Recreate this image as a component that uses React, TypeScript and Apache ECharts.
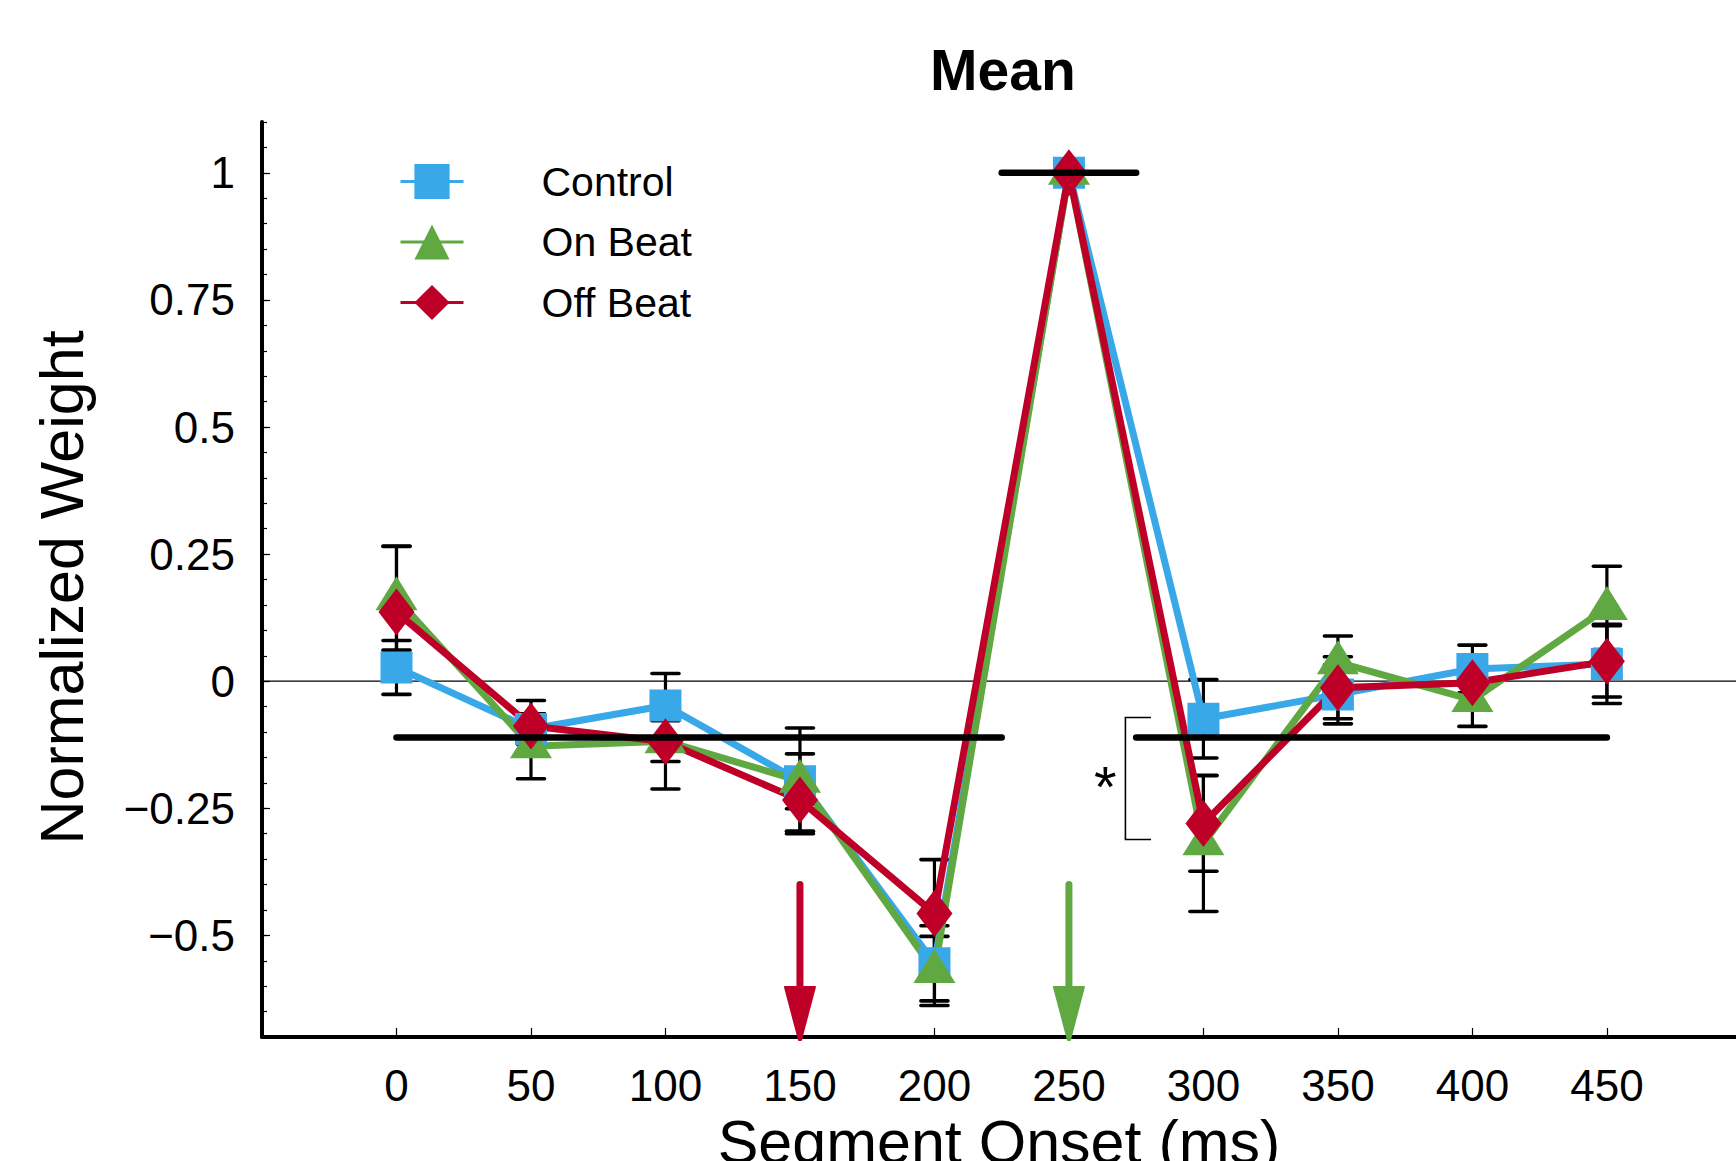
import React, { useEffect, useRef } from 'react';
import * as echarts from 'echarts';

const segmentOnsets = [0, 50, 100, 150, 200, 250, 300, 350, 400, 450];
const xTickLabels = ['0', '50', '100', '150', '200', '250', '300', '350', '400', '450'];
const yTickValues = [-0.5, -0.25, 0, 0.25, 0.5, 0.75, 1];
const yTickLabels = ['\u22120.5', '\u22120.25', '0', '0.25', '0.5', '0.75', '1'];

const controlMean = [0.027, -0.094, -0.048, -0.197, -0.555, 1.0, -0.074, -0.026, 0.024, 0.034];
const controlErr = [0.053, 0.03, 0.063, 0.054, 0.074, 0, 0.077, 0.058, 0.047, 0.078];
const onBeatMean = [0.163, -0.128, -0.118, -0.196, -0.57, 1.0, -0.319, 0.037, -0.037, 0.144];
const onBeatErr = [0.102, 0.064, 0.04, 0.104, 0.068, 0, 0.134, 0.052, 0.052, 0.082];
const offBeatMean = [0.136, -0.088, -0.119, -0.234, -0.457, 1.0, -0.28, -0.013, -0.003, 0.039];
const offBeatErr = [0.13, 0.05, 0.093, 0.061, 0.106, 0, 0.094, 0.061, 0.053, 0.07];

const chanceLevel = -0.111;
const peakLevel = 1;
const referenceSegments = [
  [0, 225, chanceLevel],
  [225, 275, peakLevel],
  [275, 450, chanceLevel],
];
const offBeatArrowOnset = 150;
const onBeatArrowOnset = 250;
const arrowTop = -0.4;
const bracketX = [271, 280.5];
const bracketY = [-0.0715, -0.3115];
const starPoint = [263.5, -0.188];

const X_MIN = -50;
const X_MAX = 498;
const Y_MIN = -0.7;
const Y_MAX = 1.1;

const BLUE = '#38A8E8';
const GREEN = '#60A842';
const RED = '#BE0028';
const FONT = '"Liberation Sans", Arial, Helvetica, sans-serif';

function errData(mean: number[], err: number[]) {
  return segmentOnsets
    .map((x, i) => [x, mean[i] - err[i], mean[i] + err[i], err[i]])
    .filter((d) => d[3] > 0);
}

const renderErr = (params: any, api: any) => {
  const x = api.value(0);
  const lo = api.coord([x, api.value(1)]);
  const hi = api.coord([x, api.value(2)]);
  const cw = 13.5;
  const st = { stroke: '#000', lineWidth: 3.6, lineCap: 'round' };
  return {
    type: 'group',
    children: [
      { type: 'line', shape: { x1: lo[0], y1: lo[1], x2: hi[0], y2: hi[1] }, style: { stroke: '#000', lineWidth: 3.2 } },
      { type: 'line', shape: { x1: lo[0] - cw, y1: lo[1], x2: lo[0] + cw, y2: lo[1] }, style: st },
      { type: 'line', shape: { x1: hi[0] - cw, y1: hi[1], x2: hi[0] + cw, y2: hi[1] }, style: st },
    ],
  };
};

const renderRef = (params: any, api: any) => {
  const a = api.coord([api.value(0), api.value(2)]);
  const b = api.coord([api.value(1), api.value(2)]);
  return {
    type: 'line',
    shape: { x1: a[0], y1: a[1], x2: b[0], y2: b[1] },
    style: { stroke: '#000', lineWidth: 6.5, lineCap: 'round' },
  };
};

const renderArrow = (params: any, api: any) => {
  const x = api.value(0);
  const top = api.coord([x, api.value(1)]);
  const tip = api.coord([x, Y_MIN]);
  const color = api.visual('color');
  const headLen = 50;
  const headHalf = 15;
  return {
    type: 'group',
    children: [
      {
        type: 'line',
        shape: { x1: top[0], y1: top[1], x2: tip[0], y2: tip[1] - headLen + 4 },
        style: { stroke: color, lineWidth: 7, lineCap: 'round' },
      },
      {
        type: 'polygon',
        shape: {
          points: [
            [tip[0] - headHalf, tip[1] - headLen],
            [tip[0] + headHalf, tip[1] - headLen],
            [tip[0] + 1, tip[1] + 3],
            [tip[0] - 1, tip[1] + 3],
          ],
        },
        style: { fill: color, stroke: color, lineWidth: 2, lineJoin: 'round' },
      },
    ],
  };
};

const renderBracket = (params: any, api: any) => {
  const p1 = api.coord([api.value(1), api.value(2)]);
  const p2 = api.coord([api.value(0), api.value(2)]);
  const p3 = api.coord([api.value(0), api.value(3)]);
  const p4 = api.coord([api.value(1), api.value(3)]);
  return {
    type: 'polyline',
    shape: { points: [p1, p2, p3, p4] },
    style: { stroke: '#000', lineWidth: 1.6, fill: 'none' },
  };
};

const renderStar = (params: any, api: any) => {
  const p = api.coord([api.value(0), api.value(1)]);
  return {
    type: 'text',
    x: p[0],
    y: p[1] + 10,
    style: {
      text: '*',
      fontSize: 58,
      fontFamily: FONT,
      fill: '#000',
      align: 'center',
      verticalAlign: 'middle',
    },
  };
};

const renderZero = (params: any, api: any) => {
  const a = api.coord([X_MIN, api.value(0)]);
  const b = api.coord([X_MAX, api.value(0)]);
  return {
    type: 'line',
    shape: { x1: a[0], y1: a[1], x2: b[0], y2: b[1] },
    style: { stroke: '#000', lineWidth: 1.3 },
  };
};

function lineSeries(name: string, mean: number[], color: string, symbol: string, size: any, offset: any) {
  return {
    name,
    type: 'line',
    data: segmentOnsets.map((x, i) => [x, mean[i]]),
    symbol,
    symbolSize: size,
    symbolOffset: offset,
    showAllSymbol: true,
    lineStyle: { width: 7, color, join: 'round' },
    itemStyle: { color },
    emphasis: { disabled: true },
    z: 2,
  };
}

function errSeries(mean: number[], err: number[]) {
  return {
    type: 'custom',
    data: errData(mean, err),
    renderItem: renderErr,
    encode: { x: 0, y: [1, 2] },
    silent: true,
    z: 2,
  };
}

export default function App() {
  const ref = useRef<HTMLDivElement>(null);
  useEffect(() => {
    if (!ref.current) return;
    const chart = echarts.init(ref.current, null, { renderer: 'svg' });
    const option: any = {
      animation: false,
      backgroundColor: '#fff',
      textStyle: { fontFamily: FONT },
      title: {
        text: 'Mean',
        left: 925,
        top: 36,
        padding: 5,
        textStyle: { fontSize: 57, fontWeight: 'bold', color: '#000', fontFamily: FONT },
      },
      legend: {
        orient: 'vertical',
        left: 399,
        top: 161,
        padding: 0,
        itemWidth: 63,
        itemHeight: 44,
        itemGap: 19.5,
        data: ['Control', 'On Beat', 'Off Beat'],
        textStyle: { fontSize: 41, color: '#000', fontFamily: FONT, padding: [0, 0, 0, 73] },
        lineStyle: { width: 3 },
      },
      grid: { left: 262, top: 122, right: 0, bottom: 124, containLabel: false, outerBoundsMode: 'none' },
      xAxis: {
        type: 'value',
        min: X_MIN,
        max: X_MAX,
        interval: 50,
        name: 'Segment Onset (ms)',
        nameLocation: 'middle',
        nameGap: 74,
        nameTextStyle: { fontSize: 61, color: '#000', fontFamily: FONT },
        axisLine: { onZero: false, lineStyle: { color: '#000', width: 4 } },
        axisTick: { inside: true, length: 9, customValues: segmentOnsets, lineStyle: { color: '#000', width: 1.2 } },
        axisLabel: {
          customValues: segmentOnsets,
          margin: 26,
          fontSize: 44,
          color: '#000',
          fontFamily: FONT,
          formatter: (v: number) => {
            const i = segmentOnsets.findIndex((s) => Math.abs(s - v) < 1e-6);
            return i >= 0 ? xTickLabels[i] : '';
          },
        },
        splitLine: { show: false },
      },
      yAxis: [
        {
          type: 'value',
          min: Y_MIN,
          max: Y_MAX,
          interval: 0.05,
          name: 'Normalized Weight',
          nameLocation: 'middle',
          nameGap: 170,
          nameTextStyle: { fontSize: 61, color: '#000', fontFamily: FONT, padding: [0, 16, 0, 0] },
          axisLine: { onZero: false, lineStyle: { color: '#000', width: 4 } },
          axisTick: { inside: true, length: 5, lineStyle: { color: '#000', width: 1.2 } },
          axisLabel: {
            customValues: yTickValues,
            margin: 27,
            fontSize: 44,
            color: '#000',
            fontFamily: FONT,
            formatter: (v: number) => {
              const i = yTickValues.findIndex((s) => Math.abs(s - v) < 1e-6);
              return i >= 0 ? yTickLabels[i] : '';
            },
          },
          splitLine: { show: false },
        },
        {
          type: 'value',
          min: Y_MIN,
          max: Y_MAX,
          position: 'left',
          axisLine: { show: false, onZero: false },
          axisTick: { inside: true, length: 8, customValues: yTickValues, lineStyle: { color: '#000', width: 1.2 } },
          axisLabel: { show: false },
          splitLine: { show: false },
        },
      ],
      series: [
        {
          type: 'custom',
          data: [[0]],
          renderItem: renderZero,
          encode: { y: 0 },
          silent: true,
          z: 1,
        },
        {
          type: 'custom',
          data: [
            { value: [offBeatArrowOnset, arrowTop], itemStyle: { color: RED } },
            { value: [onBeatArrowOnset, arrowTop], itemStyle: { color: GREEN } },
          ],
          renderItem: renderArrow,
          encode: { x: 0, y: 1 },
          silent: true,
          z: 1,
        },
        errSeries(controlMean, controlErr),
        lineSeries('Control', controlMean, BLUE, 'rect', 32, [0, 0]),
        errSeries(onBeatMean, onBeatErr),
        lineSeries('On Beat', onBeatMean, GREEN, 'triangle', [42, 34], [0, -5]),
        errSeries(offBeatMean, offBeatErr),
        lineSeries('Off Beat', offBeatMean, RED, 'diamond', [36, 47], [0, 0]),
        {
          type: 'custom',
          data: referenceSegments,
          renderItem: renderRef,
          encode: { x: [0, 1], y: 2 },
          silent: true,
          z: 4,
        },
        {
          type: 'custom',
          data: [[bracketX[0], bracketX[1], bracketY[0], bracketY[1]]],
          renderItem: renderBracket,
          encode: { x: [0, 1], y: [2, 3] },
          silent: true,
          z: 4,
        },
        {
          type: 'custom',
          data: [starPoint],
          renderItem: renderStar,
          encode: { x: 0, y: 1 },
          silent: true,
          z: 4,
        },
      ],
    };
    chart.setOption(option);
    return () => chart.dispose();
  }, []);
  return (
    <div
      ref={ref}
      style={{ position: 'fixed', left: 0, top: 0, width: 1736, height: 1161, background: '#fff' }}
    />
  );
}
